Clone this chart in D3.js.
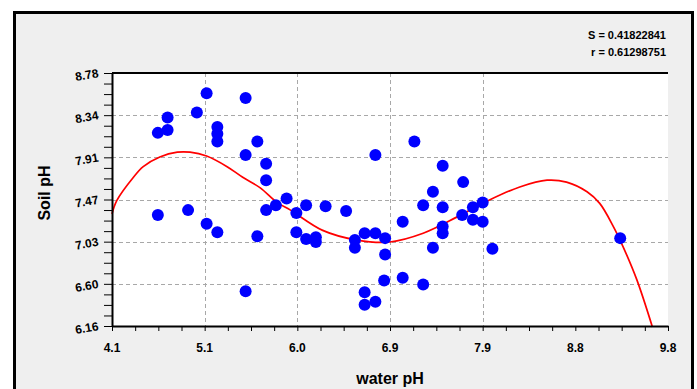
<!DOCTYPE html>
<html>
<head>
<meta charset="utf-8">
<script src="https://cdn.jsdelivr.net/npm/d3@7"></script>
<style>
  body { margin: 0; background: #fff; }
  svg text { font-family: "Liberation Sans", Arial, sans-serif; font-weight: bold; fill: #000; }
</style>
</head>
<body>
<div class="vis"></div>
<script>
// observed points
const waterPH = [4.57, 4.67, 4.67, 4.97, 5.07, 5.47, 5.18, 5.18, 5.18, 5.59,
  5.47, 5.68, 5.68, 4.57, 4.88, 5.07, 5.18, 5.59, 5.47, 5.89,
  5.68, 5.78, 5.99, 6.09, 6.29, 6.50, 5.99, 6.09, 6.19, 6.19,
  6.59, 6.59, 6.69, 6.80, 6.90, 6.90, 7.08, 6.89, 7.08, 7.29,
  6.69, 6.69, 6.80, 6.80, 7.20, 7.39, 7.49, 7.70, 7.29, 7.49,
  7.49, 7.49, 7.39, 7.69, 7.80, 7.90, 7.80, 7.90, 8.00, 9.31];
const soilPH = [8.16, 8.19, 8.32, 8.37, 8.57, 8.52, 8.22, 8.15, 8.07, 8.07,
  7.93, 7.84, 7.67, 7.31, 7.36, 7.22, 7.13, 7.09, 6.52, 7.48,
  7.36, 7.41, 7.33, 7.41, 7.40, 7.35, 7.13, 7.06, 7.08, 7.03,
  7.05, 6.97, 7.12, 7.12, 7.07, 6.90, 7.24, 6.63, 6.66, 6.59,
  6.51, 6.38, 6.41, 7.93, 8.07, 7.55, 7.82, 7.65, 7.41, 7.39,
  7.19, 7.12, 6.97, 7.31, 7.39, 7.44, 7.26, 7.24, 6.96, 7.07];

// fitted curve
const fitX = [4.10, 4.15, 4.32, 4.42, 4.59, 4.77, 4.90, 5.07, 5.28, 5.44,
  5.62, 5.79, 5.93, 6.26, 6.61, 6.95, 7.29, 7.64, 7.98, 8.28,
  8.56, 8.76, 8.97, 9.10, 9.24, 9.34, 9.48, 9.64];
const fitY = [7.32, 7.46, 7.70, 7.81, 7.91, 7.96, 7.96, 7.92, 7.81, 7.70,
  7.59, 7.44, 7.36, 7.15, 7.05, 7.03, 7.12, 7.29, 7.47, 7.60,
  7.67, 7.65, 7.55, 7.43, 7.19, 6.98, 6.64, 6.15];

const xTicks = [4.1, 5.05, 6.0, 6.95, 7.9, 8.85, 9.8];
const xTickLabels = ["4.1", "5.1", "6.0", "6.9", "7.9", "8.8", "9.8"];
const yTicks = [6.16, 6.5967, 7.0333, 7.47, 7.9067, 8.3433, 8.78];
const yTickLabels = ["6.16", "6.60", "7.03", "7.47", "7.91", "8.34", "8.78"];

const statS = "S = 0.41822841";
const statR = "r = 0.61298751";

const width = 697, height = 389;
const plot = { left: 112, right: 668, top: 73, bottom: 326 };

const svg = d3.select(".vis")
  .append("svg")
  .attr("width", width)
  .attr("height", height);

// outer panel
svg.append("rect")
  .attr("x", 14.5).attr("y", 12.5)
  .attr("width", 678).attr("height", 400)
  .attr("fill", "#efefef")
  .attr("stroke", "#000")
  .attr("stroke-width", 3);

// plot background
svg.append("rect")
  .attr("x", plot.left).attr("y", plot.top)
  .attr("width", plot.right - plot.left)
  .attr("height", plot.bottom - plot.top)
  .attr("fill", "#fff");

const x = d3.scaleLinear().domain([4.1, 9.8]).range([plot.left, plot.right]);
const y = d3.scaleLinear().domain([6.16, 8.78]).range([plot.bottom, plot.top]);

// grid
svg.append("g")
  .selectAll("line")
  .data(yTicks.slice(1, 6))
  .join("line")
  .attr("x1", plot.left).attr("x2", plot.right)
  .attr("y1", (d) => Math.round(y(d)) + 0.5)
  .attr("y2", (d) => Math.round(y(d)) + 0.5)
  .attr("stroke", "#a8a8a8")
  .attr("stroke-dasharray", "4,3");

svg.append("g")
  .selectAll("line")
  .data(xTicks.slice(1, 5))
  .join("line")
  .attr("x1", (d) => Math.round(x(d)) + 0.5)
  .attr("x2", (d) => Math.round(x(d)) + 0.5)
  .attr("y1", plot.top).attr("y2", plot.bottom)
  .attr("stroke", "#a8a8a8")
  .attr("stroke-dasharray", "4,3");

// top border
svg.append("line")
  .attr("x1", plot.left).attr("x2", plot.right)
  .attr("y1", plot.top).attr("y2", plot.top)
  .attr("stroke", "#000").attr("stroke-width", 2);

// fitted curve
const line = d3.line()
  .x((d, i) => x(fitX[i]))
  .y((d, i) => y(fitY[i]))
  .curve(d3.curveCatmullRom);

svg.append("path")
  .datum(fitX)
  .attr("d", line)
  .attr("fill", "none")
  .attr("stroke", "#ff0000")
  .attr("stroke-width", 1.7);

// dots
svg.append("g")
  .selectAll("circle")
  .data(waterPH)
  .join("circle")
  .attr("cx", (d) => x(d))
  .attr("cy", (d, i) => y(soilPH[i]))
  .attr("r", 6)
  .attr("fill", "#0000ff");

// minor ticks
const xMinor = d3.range(0, 25).map((i) => 4.1 + i * 0.2375);
const yMinor = d3.range(0, 25).map((i) => 6.16 + i * (2.62 / 24));

svg.append("g")
  .attr("transform", `translate(0,${plot.bottom})`)
  .call(d3.axisBottom(x).tickValues(xMinor).tickFormat("").tickSize(5).tickSizeOuter(0))
  .call((g) => g.select(".domain").attr("stroke-width", 2));

svg.append("g")
  .attr("transform", `translate(${plot.left},0)`)
  .call(d3.axisLeft(y).tickValues(yMinor).tickFormat("").tickSize(8).tickSizeOuter(0))
  .call((g) => g.select(".domain").attr("stroke-width", 2));

// tick labels
svg.append("g")
  .selectAll("text")
  .data(xTicks)
  .join("text")
  .attr("x", (d) => x(d))
  .attr("y", plot.bottom + 26)
  .attr("text-anchor", "middle")
  .style("font-size", "12px")
  .text((d, i) => xTickLabels[i]);

svg.append("g")
  .selectAll("text")
  .data(yTicks)
  .join("text")
  .attr("transform", (d) => `translate(99,${y(d) + 4}) rotate(-10)`)
  .attr("text-anchor", "end")
  .style("font-size", "12px")
  .text((d, i) => yTickLabels[i]);

// axis titles
svg.append("text")
  .attr("x", 390).attr("y", 384)
  .attr("text-anchor", "middle")
  .style("font-size", "16px")
  .text("water pH");

svg.append("text")
  .attr("transform", "translate(50,193) rotate(-90)")
  .attr("text-anchor", "middle")
  .style("font-size", "16px")
  .text("Soil pH");

// stats
svg.append("text")
  .attr("x", 666).attr("y", 39)
  .attr("text-anchor", "end")
  .style("font-size", "11px")
  .text(statS);

svg.append("text")
  .attr("x", 666).attr("y", 56)
  .attr("text-anchor", "end")
  .style("font-size", "11px")
  .text(statR);
</script>
</body>
</html>
